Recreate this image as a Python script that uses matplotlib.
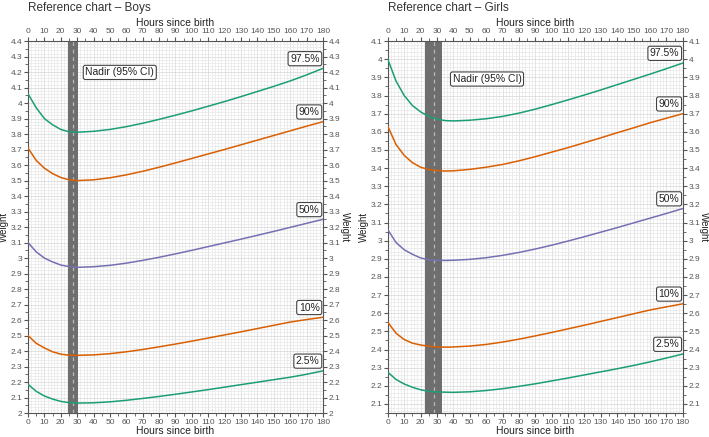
import numpy as np
import matplotlib.pyplot as plt
from matplotlib.ticker import MultipleLocator, FormatStrFormatter

plt.rcParams['font.family'] = ['Liberation Sans', 'DejaVu Sans']

hours = [0, 5, 10, 15, 20, 25, 30, 40, 50, 60, 70, 80, 90, 100, 110, 120,
         130, 140, 150, 160, 170, 180]
hours_g = [0, 5, 10, 15, 20, 25, 30, 35, 40, 50, 60, 70, 80, 90, 100, 110,
           120, 130, 140, 150, 160, 170, 180]

boys_975 = [4.06, 3.97, 3.90, 3.86, 3.83, 3.815, 3.812, 3.818, 3.83, 3.848, 3.87,
            3.895, 3.922, 3.95, 3.98, 4.01, 4.042, 4.075, 4.108, 4.143, 4.182, 4.224]
boys_90 = [3.71, 3.63, 3.58, 3.545, 3.52, 3.505, 3.50, 3.505, 3.518, 3.537, 3.56,
           3.586, 3.614, 3.643, 3.672, 3.701, 3.731, 3.761, 3.791, 3.821, 3.851, 3.88]
boys_50 = [3.10, 3.04, 3.00, 2.975, 2.955, 2.945, 2.94, 2.944, 2.953, 2.967, 2.985,
           3.005, 3.027, 3.05, 3.074, 3.098, 3.122, 3.147, 3.172, 3.198, 3.224, 3.25]
boys_10 = [2.50, 2.45, 2.42, 2.395, 2.38, 2.373, 2.372, 2.375, 2.383, 2.395, 2.41,
           2.427, 2.445, 2.464, 2.484, 2.504, 2.524, 2.545, 2.566, 2.587, 2.603, 2.618]
boys_25 = [2.185, 2.14, 2.11, 2.09, 2.075, 2.067, 2.064, 2.066, 2.072, 2.082, 2.094,
           2.107, 2.121, 2.136, 2.151, 2.167, 2.183, 2.199, 2.215, 2.231, 2.25, 2.272]

girls_975 = [4.00, 3.88, 3.80, 3.745, 3.71, 3.685, 3.67, 3.662, 3.66, 3.664, 3.672,
             3.685, 3.703, 3.725, 3.75, 3.776, 3.803, 3.831, 3.86, 3.889, 3.918, 3.948, 3.979]
girls_90 = [3.63, 3.53, 3.47, 3.43, 3.405, 3.392, 3.386, 3.384, 3.385, 3.393, 3.405,
            3.42, 3.44, 3.463, 3.488, 3.513, 3.54, 3.567, 3.595, 3.622, 3.65, 3.675, 3.70]
girls_50 = [3.06, 2.99, 2.95, 2.925, 2.905, 2.895, 2.892, 2.891, 2.892, 2.897, 2.906,
            2.919, 2.935, 2.954, 2.975, 2.998, 3.022, 3.047, 3.072, 3.098, 3.124, 3.15, 3.177]
girls_10 = [2.55, 2.49, 2.455, 2.435, 2.425, 2.418, 2.414, 2.413, 2.414, 2.419, 2.428,
            2.441, 2.457, 2.475, 2.494, 2.514, 2.534, 2.555, 2.576, 2.597, 2.618, 2.635, 2.652]
girls_25 = [2.275, 2.235, 2.21, 2.192, 2.178, 2.17, 2.166, 2.165, 2.164, 2.167, 2.174,
            2.184, 2.197, 2.211, 2.227, 2.243, 2.26, 2.277, 2.294, 2.312, 2.332, 2.353, 2.375]

labels = ["97.5%", "90%", "50%", "10%", "2.5%"]
colors = ["#1b9e77", "#d95f02", "#7570b3", "#d95f02", "#1b9e77"]

boys_nadir = (24.2, 30.3, 27.3)
girls_nadir = (22.6, 32.9, 27.9)

panels = [
    ("Reference chart \u2013 Boys", hours, [boys_975, boys_90, boys_50, boys_10, boys_25],
     boys_nadir, (2.0, 4.4), (35.0, 4.198), 0.0395),
    ("Reference chart \u2013 Girls", hours_g, [girls_975, girls_90, girls_50, girls_10, girls_25],
     girls_nadir, (2.05, 4.1), (39.5, 3.891), 0.547),
]

fig = plt.figure(figsize=(7.09, 4.37), dpi=100)

for title, hh, curves, nadir, ylim, nadir_pos, left in panels:
    ax = fig.add_axes([left, 0.0549, 0.416, 0.851])
    ax.set_xlim(0, 180)
    ax.set_ylim(*ylim)

    ax.xaxis.set_major_locator(MultipleLocator(10))
    ax.xaxis.set_minor_locator(MultipleLocator(5))
    ax.yaxis.set_minor_locator(MultipleLocator(0.05))
    ax.yaxis.set_major_formatter(FormatStrFormatter('%g'))
    ax.set_yticks(np.arange(np.ceil(ylim[0] * 10) / 10, ylim[1] + 0.001, 0.1))

    # fine grid
    for x in np.arange(0, 181, 2):
        ax.axvline(x, color="#e8e8e8" if x % 10 else "#d6d6d6", lw=0.5, zorder=0)
    for y in np.arange(2.0, 4.41, 0.02):
        ax.axhline(y, color="#e8e8e8" if round(y * 50) % 5 else "#d6d6d6", lw=0.5, zorder=0)

    ax.axvspan(nadir[0], nadir[1], color="#6e6e6e", lw=0, zorder=1)
    ax.axvline(nadir[2], color="#b8b8b8", lw=0.9, ls=(0, (3, 3)), zorder=2)

    for vals, lab, c in zip(curves, labels, colors):
        ax.plot(hh, vals, color=c, lw=1.1, zorder=3)
        ax.annotate(lab, xy=(178, vals[-1]), xytext=(0, 7), textcoords="offset points",
                    ha="right", va="center", fontsize=7.5, color="#222222", zorder=5,
                    bbox=dict(boxstyle="round,pad=0.2", fc="white", ec="#444444", lw=0.8))

    ax.text(nadir_pos[0], nadir_pos[1], "Nadir (95% CI)", ha="left", va="center",
            fontsize=7.5, color="#222222", zorder=5,
            bbox=dict(boxstyle="round,pad=0.2", fc="white", ec="#444444", lw=0.8))

    ax.tick_params(which="both", direction="out", top=True, right=True,
                   labeltop=True, labelright=True, colors="#555555", labelsize=6, pad=1.5)
    ax.tick_params(axis="y", which="both", pad=1)
    ax.tick_params(which="major", length=3, width=0.8)
    ax.tick_params(which="minor", length=2, width=0.6)
    for s in ax.spines.values():
        s.set_color("#555555")
        s.set_linewidth(0.8)

    ax.text(0.5, -0.048, "Hours since birth", transform=ax.transAxes, ha="center",
            va="center", fontsize=7.5, color="#222222")
    ax.text(0.5, 1.048, "Hours since birth", transform=ax.transAxes, ha="center",
            va="center", fontsize=7.5, color="#222222")
    ax.text(-0.08, 0.5, "Weight", transform=ax.transAxes, rotation=90, ha="center",
            va="center", fontsize=7, color="#222222")
    ax.text(1.073, 0.5, "Weight", transform=ax.transAxes, rotation=270, ha="center",
            va="center", fontsize=7, color="#222222")
    ax.text(0.0, 1.089, title, transform=ax.transAxes, ha="left", va="center",
            fontsize=8.5, color="#333333")

plt.savefig("out.png", dpi=100)
